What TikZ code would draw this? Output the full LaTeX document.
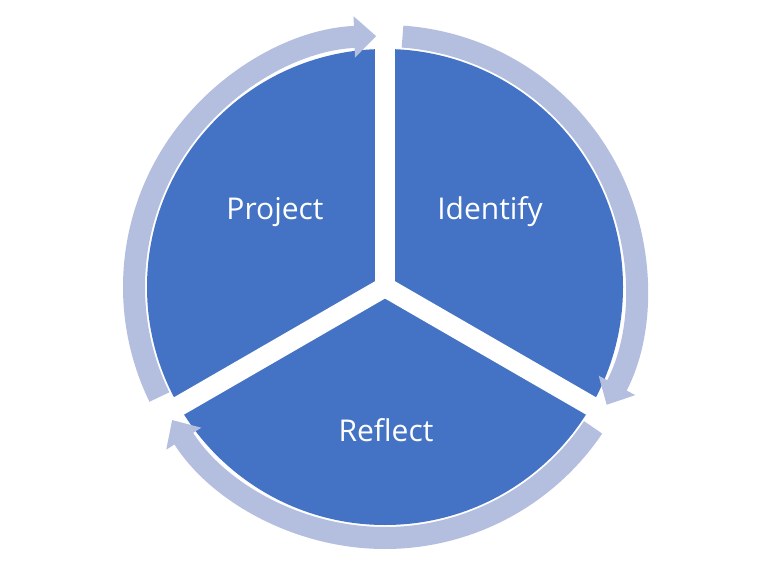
\documentclass[tikz,border=0pt]{standalone}
\usepackage{fontspec}
\setmainfont{Open Sans}
\usetikzlibrary{arrows.meta}
\definecolor{pie}{HTML}{4472C4}
\definecolor{ring}{HTML}{B4BFE0}
\begin{document}
\begin{tikzpicture}[x=1pt,y=1pt,
  ringarrow/.style={draw=ring,line width=22pt,-{Triangle[width=40pt,length=22pt]}},
  gapline/.style={draw=white,line width=20pt},
  lbl/.style={text=white,font=\fontsize{30}{36}\selectfont}]
\useasboundingbox (0,0) rectangle (768,574);
\coordinate (c) at (385,287);
\fill[pie] (c) circle[radius=238];
\draw[gapline] (c) -- ++(90:250);
\draw[gapline] (c) -- ++(-30:250);
\draw[gapline] (c) -- ++(210:250);
\draw[ringarrow] (c) ++(206:251) arc[start angle=206,end angle=92,radius=251];
\draw[ringarrow] (c) ++(86:251) arc[start angle=86,end angle=-28,radius=251];
\draw[ringarrow] (c) ++(-34:251) arc[start angle=-34,end angle=-148,radius=251];
\node[lbl] (p) at (275,362) {Project};
\node[lbl] (i) at (490,362) {Identify};
\node[lbl] (r) at (386,144) {Reflect};
\end{tikzpicture}
\end{document}
